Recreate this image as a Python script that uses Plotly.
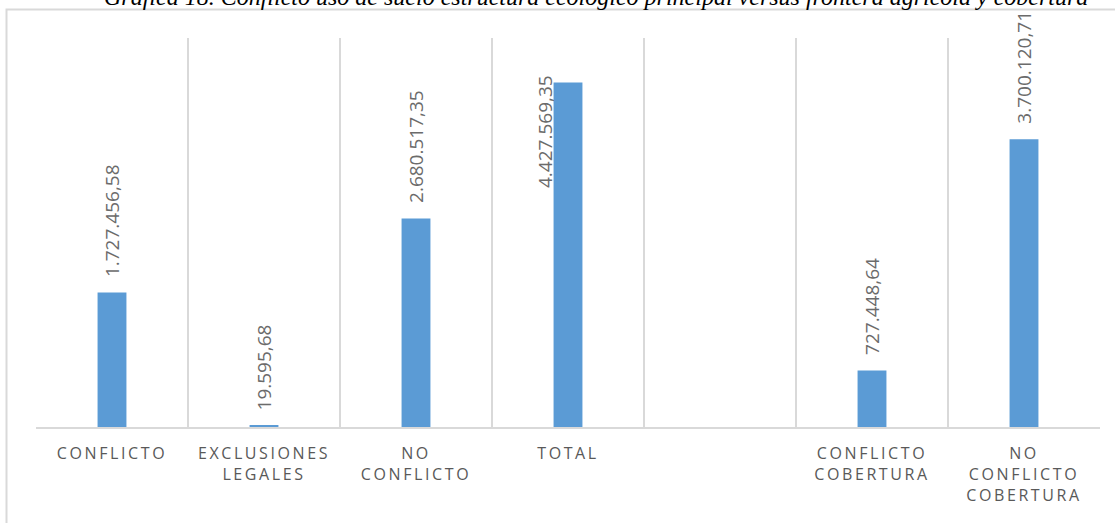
import plotly.graph_objects as go

categories = ["CONFLICTO", "EXCLUSIONES<br>LEGALES", "NO<br>CONFLICTO", "TOTAL", " ",
              "CONFLICTO<br>COBERTURA", "NO<br>CONFLICTO<br>COBERTURA"]
values = [1727456.58, 19595.68, 2680517.35, 4427569.35, None, 727448.64, 3700120.71]
value_labels = ["1.727.456,58", "19.595,68", "2.680.517,35", "4.427.569,35", "",
                "727.448,64", "3.700.120,71"]
title_text = "Gráfica 18. Conflicto uso de suelo estructura ecológico principal versus frontera agrícola y cobertura"

Y_MAX = 5000000
W, H = 1115, 523
ML, MR, MT, MB = 36, 15, 38, 96
pw, ph = W - ML - MR, H - MT - MB

def px_to_paper_x(px):
    return (px - ML) / pw

def px_to_paper_y(py):
    return (H - MB - py) / ph

fig = go.Figure(go.Bar(
    x=categories, y=values,
    marker=dict(color="#5B9BD5", line=dict(width=0)),
    cliponaxis=False, hoverinfo="skip",
))

label_font = dict(family="Open Sans", size=19, color="#6b6b6b")
annotations = []
for cat, val, lab in zip(categories, values, value_labels):
    if val is None or not lab:
        continue
    if val > 0.85 * Y_MAX:
        # label does not fit above the bar: placed beside it (left), like the source
        annotations.append(dict(x=cat, y=val, xref="x", yref="y", text=lab, textangle=-90,
                                showarrow=False, xanchor="right", yanchor="top",
                                xshift=-8, yshift=9, font=label_font))
    else:
        annotations.append(dict(x=cat, y=val, xref="x", yref="y", text=lab, textangle=-90,
                                showarrow=False, xanchor="center", yanchor="bottom",
                                yshift=13, font=label_font))

annotations.append(dict(
    text=title_text, xref="paper", yref="paper",
    x=px_to_paper_x(596), y=px_to_paper_y(-3), xanchor="center", yanchor="middle",
    showarrow=False,
    font=dict(family="Liberation Serif", size=24, style="italic", color="#000000"),
))

fig.update_layout(
    width=W, height=H,
    margin=dict(l=ML, r=MR, t=MT, b=MB, pad=0, autoexpand=False),
    paper_bgcolor="white", plot_bgcolor="white",
    bargap=0.81, showlegend=False, hovermode=False,
    xaxis=dict(type="category", tickson="boundaries", showgrid=True,
               gridcolor="#d9d9d9", gridwidth=2, ticks="", showline=True,
               linecolor="#d9d9d9", linewidth=2, zeroline=False, automargin=False,
               tickfont=dict(family="Open Sans", size=16, color="#595959"),
               ticklabelstandoff=11, fixedrange=True),
    yaxis=dict(range=[0, Y_MAX], visible=False, showgrid=False, fixedrange=True,
               automargin=False),
    annotations=annotations,
    shapes=[dict(
        type="rect", xref="paper", yref="paper", layer="below",
        x0=px_to_paper_x(6.5), x1=px_to_paper_x(1125),
        y0=px_to_paper_y(540), y1=px_to_paper_y(9.5),
        line=dict(color="#d9d9d9", width=2), fillcolor="rgba(0,0,0,0)",
    )],
)

post = """
document.body.style.margin = '0';
document.body.style.overflow = 'hidden';
var gd = document.getElementById('{plot_id}');
function spaceTicks(){
  gd.querySelectorAll('.xtick text, .xtick tspan').forEach(function(t){ t.style.letterSpacing='2.6px'; });
}
spaceTicks();
if (gd.on) { gd.on('plotly_afterplot', spaceTicks); }
"""

fig.write_html("out.html", post_script=post, config={"displayModeBar": False})
